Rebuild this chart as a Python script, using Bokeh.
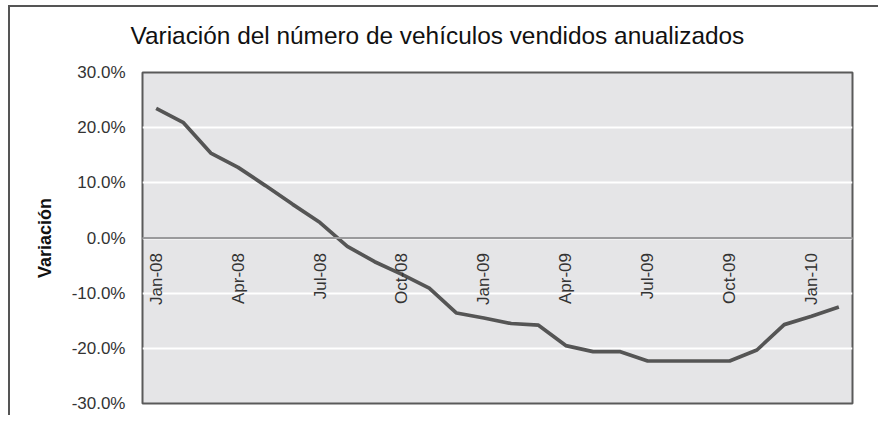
import math
from bokeh.plotting import figure
from bokeh.models import FactorRange, FixedTicker, PrintfTickFormatter, Span, ColumnDataSource, Title
from bokeh.core.properties import value
from bokeh.embed import file_html
from bokeh.resources import INLINE

# ---- data ----
months = ["Jan-08", "Feb-08", "Mar-08", "Apr-08", "May-08", "Jun-08", "Jul-08", "Aug-08",
          "Sep-08", "Oct-08", "Nov-08", "Dec-08", "Jan-09", "Feb-09", "Mar-09", "Apr-09",
          "May-09", "Jun-09", "Jul-09", "Aug-09", "Sep-09", "Oct-09", "Nov-09", "Dec-09",
          "Jan-10", "Feb-10"]
variation = [23.5, 20.9, 15.4, 12.8, 9.5, 6.1, 2.8, -1.5,
             -4.3, -6.6, -9.1, -13.6, -14.5, -15.5, -15.8, -19.5,
             -20.6, -20.6, -22.3, -22.3, -22.3, -22.3, -20.3, -15.7,
             -14.2, -12.5]
tick_months = ["Jan-08", "Apr-08", "Jul-08", "Oct-08", "Jan-09", "Apr-09", "Jul-09", "Oct-09", "Jan-10"]
y_ticks = [-30, -20, -10, 0, 10, 20, 30]
title_text = "Variación del número de vehículos vendidos anualizados"

FONT = "Liberation Sans"

p = figure(width=870, height=410, output_backend="svg", toolbar_location=None,
           x_range=FactorRange(factors=months, range_padding=0),
           y_range=(-30, 30),
           min_border_left=132, min_border_right=28, min_border_top=65, min_border_bottom=14)
p.styles = {"margin": "5px 0px 0px 8px", "border-top": "2px solid #555", "border-left": "2px solid #555"}

# spacer between title and frame (nearest to the frame)
spacer = Title(text=" ", text_font_size="1px", standoff=21)
p.add_layout(spacer, "above")
# real title
ttl = Title(text=title_text, text_font=FONT, text_font_size="24.4px", text_font_style="normal",
            text_color="#111111", align="left", offset=-12, standoff=0)
p.add_layout(ttl, "above")

p.background_fill_color = "#e5e5e7"
p.border_fill_color = "white"
p.outline_line_color = "#5a5a5a"
p.outline_line_width = 2

p.xaxis.visible = False
p.xgrid.visible = False

p.yaxis.ticker = FixedTicker(ticks=y_ticks)
p.yaxis.formatter = PrintfTickFormatter(format="%.1f%%")
p.yaxis.axis_line_color = None
p.yaxis.major_tick_line_color = None
p.yaxis.minor_tick_line_color = None
p.yaxis.major_tick_out = 0
p.yaxis.major_label_standoff = 17
p.yaxis.major_label_text_font = FONT
p.yaxis.major_label_text_font_size = "17px"
p.yaxis.major_label_text_color = "#333333"
p.yaxis.axis_label = "Variación"
p.yaxis.axis_label_text_font = FONT
p.yaxis.axis_label_text_font_size = "18px"
p.yaxis.axis_label_text_font_style = "bold"
p.yaxis.axis_label_text_color = "#111111"
p.yaxis.axis_label_standoff = 14

p.ygrid.grid_line_color = "white"
p.ygrid.grid_line_width = 2

zero = Span(location=0, dimension="width", line_color="#9a9a9c", line_width=2)
p.add_layout(zero)

src = ColumnDataSource(dict(m=months, v=variation))
p.line(x="m", y="v", source=src, line_color="#555555", line_width=3.7)

lab = ColumnDataSource(dict(m=tick_months, y=[0] * len(tick_months), t=tick_months))
p.text(x="m", y="y", text="t", source=lab, angle=math.pi / 2,
       text_align="right", text_baseline="middle", y_offset=15,
       text_font=value(FONT), text_font_size="17px", text_color="#333333")

open("out.html", "w").write(file_html(p, INLINE))
